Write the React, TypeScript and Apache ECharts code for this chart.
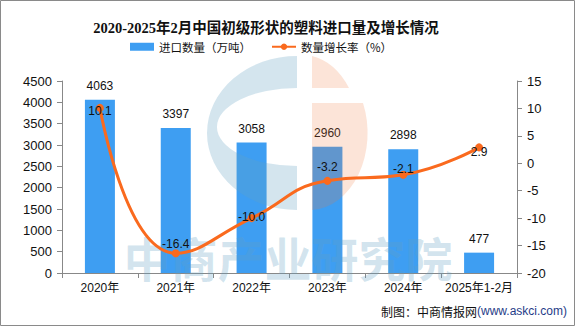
import React, { useEffect, useRef } from "react";
import * as echarts from "echarts";

const categories = ["2020年", "2021年", "2022年", "2023年", "2024年", "2025年1-2月"];
const importVolume = [4063, 3397, 3058, 2960, 2898, 477];
const growthRate = [10.1, -16.4, -10.0, -3.2, -2.1, 2.9];
const growthLabelOffsets: [number, number][] = [[0, 3], [0, -9], [0, -1], [0, -14], [0, -6], [0, 5]];

const CJK = "Noto Sans CJK SC";
const NUM = "Liberation Sans, Noto Sans CJK SC";

echarts.graphic.registerShape(
  "wmBlue",
  echarts.graphic.extendPath(
    "M 297 56 A 90 77 0 0 0 297 210 L 297 166 A 80 39 0 0 1 297 88 Z",
    {}
  )
);
echarts.graphic.registerShape(
  "wmOrange",
  echarts.graphic.extendPath(
    "M 312 56 A 58 77 0 0 1 349 88 L 312 88 Z M 312 103 L 363 103 A 58 77 0 0 1 312 210 Z",
    {}
  )
);

export default function App() {
  const ref = useRef<HTMLDivElement>(null);
  useEffect(() => {
    if (!ref.current) return;
    const chart = echarts.init(ref.current, undefined, { renderer: "svg" });
    chart.setOption({
      animation: false,
      backgroundColor: "#ffffff",
      title: {
        text: "2020-2025年2月中国初级形状的塑料进口量及增长情况",
        left: 261,
        textAlign: "center",
        top: 16,
        textStyle: {
          fontFamily: "Liberation Serif, Noto Sans CJK SC",
          fontWeight: "bold",
          fontSize: 14.5,
          color: "#111",
        },
      },
      legend: {
        left: 130,
        top: 41,
        padding: 0,
        itemWidth: 24,
        itemHeight: 8,
        itemGap: 20,
        textStyle: { fontFamily: CJK, fontSize: 11.5, color: "#111" },
        data: [
          { name: "进口数量（万吨）", icon: "rect" },
          { name: "数量增长率（%）" },
        ],
      },
      grid: { left: 62, right: 59, top: 81, bottom: 54, containLabel: false },
      xAxis: {
        type: "category",
        data: categories,
        axisLine: { lineStyle: { color: "#888" } },
        axisTick: { show: true, length: 5, lineStyle: { color: "#888" } },
        axisLabel: { fontFamily: NUM, fontSize: 12, color: "#111", margin: 9, interval: 0 },
      },
      yAxis: [
        {
          type: "value",
          min: 0,
          max: 4500,
          interval: 500,
          splitLine: { show: false },
          axisLine: { show: true, lineStyle: { color: "#888" } },
          axisTick: { show: true, length: 5, lineStyle: { color: "#888" } },
          axisLabel: {
            fontFamily: NUM,
            fontSize: 13,
            color: "#111",
            margin: 10,
            formatter: (v: number) => String(v),
          },
        },
        {
          type: "value",
          min: -20,
          max: 15,
          interval: 5,
          splitLine: { show: false },
          axisLine: { show: true, lineStyle: { color: "#888" } },
          axisTick: { show: true, length: 5, lineStyle: { color: "#888" } },
          axisLabel: {
            fontFamily: NUM,
            fontSize: 13,
            color: "#111",
            margin: 10,
            formatter: (v: number) => String(v),
          },
        },
      ],
      series: [
        {
          name: "进口数量（万吨）",
          type: "bar",
          data: importVolume,
          barWidth: 30,
          z: 2,
          itemStyle: { color: "#3e9ef2" },
          label: {
            show: true,
            position: "top",
            distance: 8,
            fontFamily: NUM,
            fontSize: 12,
            color: "#111",
          },
        },
        {
          name: "数量增长率（%）",
          type: "line",
          yAxisIndex: 1,
          smooth: 0.5,
          z: 5,
          symbol: "circle",
          symbolSize: 8,
          lineStyle: { color: "#fa6a1e", width: 3 },
          itemStyle: { color: "#fa6a1e" },
          data: growthRate.map((v, i) => ({
            value: v,
            label: { offset: growthLabelOffsets[i] },
          })),
          label: {
            show: true,
            position: "inside",
            fontFamily: NUM,
            fontSize: 12,
            color: "#111",
            formatter: (p: any) => Number(p.value).toFixed(1),
          },
        },
      ],
      graphic: [
        {
          type: "wmBlue",
          z: 3,
          silent: true,
          style: { fill: "rgba(100,160,195,0.28)" },
        },
        {
          type: "wmOrange",
          z: 3,
          silent: true,
          style: { fill: "rgba(240,120,60,0.2)" },
        },
        {
          type: "text",
          z: 3,
          silent: true,
          x: 288,
          y: 256,
          style: {
            text: "中商产业研究院",
            fontFamily: CJK,
            fontWeight: "bold",
            fontSize: 47,
            fill: "rgba(100,160,195,0.28)",
            align: "center",
            verticalAlign: "middle",
          },
        },
        {
          type: "text",
          z: 6,
          right: 9,
          top: 305,
          style: {
            text: "{a|制图：中商情报网}{b|(www.askci.com)}",
            rich: {
              a: { fontFamily: CJK, fontSize: 12, fill: "#111" },
              b: { fontFamily: NUM, fontSize: 12, fill: "#1f3c88" },
            },
          },
        },
        {
          type: "rect",
          z: 10,
          silent: true,
          shape: { x: 0.5, y: 0.5, width: 574, height: 325 },
          style: { fill: "none", stroke: "#8a8a8a", lineWidth: 1 },
        },
      ],
    });
    return () => chart.dispose();
  }, []);
  return (
    <div
      ref={ref}
      style={{ position: "fixed", left: 0, top: 0, width: 576, height: 327 }}
    />
  );
}
